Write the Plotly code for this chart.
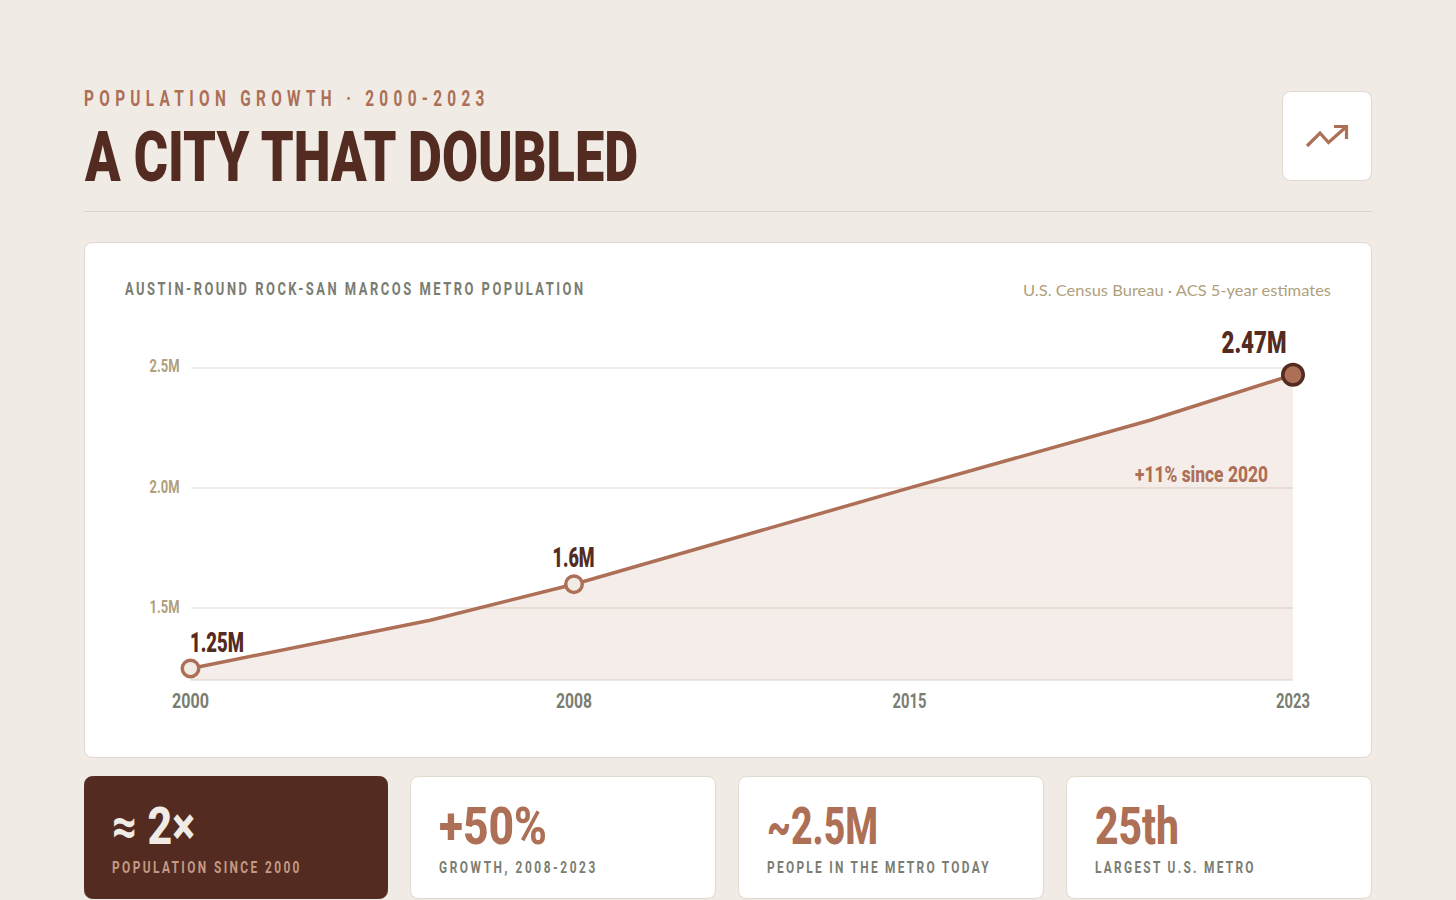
import json
import plotly.graph_objects as go

W, H = 1456, 900

years = [2000, 2005, 2008, 2015, 2020, 2023]
population = [1.25, 1.45, 1.6, 2.0, 2.28, 2.47]

marked_years = [2000, 2008, 2023]
marked_pop = [1.25, 1.6, 2.47]
marked_labels = ["1.25M", "1.6M", "2.47M"]

x_ticks = [2000, 2008, 2015, 2023]
y_ticks = [1.5, 2.0, 2.5]
y_tick_labels = ["1.5M", "2.0M", "2.5M"]

stat_values = ["≈ 2×", "+50%", "~2.5M", "25th"]
stat_labels = ["POPULATION SINCE 2000", "GROWTH, 2008-2023", "PEOPLE IN THE METRO TODAY", "LARGEST U.S. METRO"]

BG = "#f0ebe5"
RUST = "#ad6f55"
DARK = "#532b21"
TAN = "#b09f7c"
GRAY = "#7a7d72"
BORDER = "#e0d9cf"
GRID = "#f0ebe4"
CONDENSED = "Roboto"


def px(x):
    return x / W


def py(y):
    return 1 - y / H


def rounded(x0, y0, x1, y1, r):
    # rounded rectangle in page pixels, converted to paper units
    pts = [
        ("M", x0 + r, y0), ("L", x1 - r, y0), ("Q", x1, y0, x1, y0 + r),
        ("L", x1, y1 - r), ("Q", x1, y1, x1 - r, y1), ("L", x0 + r, y1),
        ("Q", x0, y1, x0, y1 - r), ("L", x0, y0 + r), ("Q", x0, y0, x0 + r, y0),
    ]
    out = []
    for p in pts:
        coords = []
        for i in range(1, len(p), 2):
            coords.append(f"{px(p[i]):.6f},{py(p[i + 1]):.6f}")
        out.append(p[0] + " ".join(coords))
    return " ".join(out) + " Z"


def card(x0, y0, x1, y1, fill="white", line=BORDER):
    return dict(type="path", xref="paper", yref="paper", layer="below",
                path=rounded(x0, y0, x1, y1, 9), fillcolor=fill, line=dict(color=line, width=1))


def polyline(points):
    d = "M" + " L".join(f"{px(a):.6f},{py(b):.6f}" for a, b in points)
    return dict(type="path", xref="paper", yref="paper", path=d,
                line=dict(color=RUST, width=3.2))


shapes = [
    card(1282.5, 91.5, 1371.5, 180.5),
    card(84.5, 242.5, 1371.5, 757.5),
    card(84.5, 776.5, 387.5, 898.5, fill=DARK, line=DARK),
    card(410.5, 776.5, 715.5, 898.5),
    card(738.5, 776.5, 1043.5, 898.5),
    card(1066.5, 776.5, 1371.5, 898.5),
    dict(type="line", xref="paper", yref="paper", layer="below",
         x0=px(84), x1=px(1372), y0=py(211.5), y1=py(211.5), line=dict(color="#dcd5ca", width=1)),
    polyline([(1307, 146), (1320, 133), (1328.5, 142.5), (1346.5, 126.5)]),
    polyline([(1334, 126.5), (1346.5, 126.5), (1346.5, 139)]),
]

# text, left, centre y, size, colour, weight, family, width, tracked
page_text = [
    ("POPULATION GROWTH · 2000-2023", 82, 98, 22, RUST, 700, CONDENSED, 406, True),
    ("A CITY THAT DOUBLED", 82.5, 157, 70, DARK, 900, CONDENSED, 553, False),
    ("AUSTIN-ROUND ROCK-SAN MARCOS METRO POPULATION", 123, 289, 18.5, GRAY, 700, CONDENSED, 461, True),
    ("U.S. Census Bureau · ACS 5-year estimates", 1021, 289, 16, TAN, 400, "Lato", 308, False),
    ("+11% since 2020", 1133, 474.5, 22, RUST, 800, CONDENSED, 133, False),
]
stat_x = [110, 437, 765, 1093]
stat_w = [83, 108, 111, 84]
label_w = [190, 159, 224, 161]
for i in range(4):
    first = i == 0
    page_text.append((stat_values[i], stat_x[i], 826, 52, BG if first else RUST, 800, CONDENSED, stat_w[i], False))
    page_text.append((stat_labels[i], stat_x[i], 867.2, 17, "#c39a85" if first else GRAY, 700, CONDENSED, label_w[i], True))

annotations = []
fit = {}
for text, left, cy, size, color, weight, family, width, tracked in page_text:
    annotations.append(dict(text=text, x=px(left), y=py(cy), xref="paper", yref="paper",
                            xanchor="left", yanchor="middle", showarrow=False,
                            font=dict(family=family, size=size, color=color, weight=weight)))
    fit[text] = [width, "start", tracked]

# labels on the marked points
label_shift = [25, 26, 32]
label_anchor = ["left", "center", "right"]
label_xshift = [-3, 0, -5]
label_size = [27, 27, 31]
label_w2 = [54, 42, 65]
anchors = {"left": "start", "center": "middle", "right": "end"}
for i in range(3):
    annotations.append(dict(text=marked_labels[i], x=marked_years[i], y=marked_pop[i], xref="x", yref="y",
                            xanchor=label_anchor[i], yanchor="middle", showarrow=False,
                            xshift=label_xshift[i], yshift=label_shift[i],
                            font=dict(family=CONDENSED, size=label_size[i], color=DARK, weight=900)))
    fit[marked_labels[i]] = [label_w2[i], anchors[label_anchor[i]], False]

fig = go.Figure()
fig.add_trace(go.Scatter(x=years, y=population, mode="lines", fill="tozeroy",
                         fillcolor="rgba(173,111,85,0.12)", line=dict(color=RUST, width=3.5),
                         hoverinfo="skip", cliponaxis=False))
fig.add_trace(go.Scatter(x=marked_years, y=marked_pop, mode="markers", cliponaxis=False, hoverinfo="skip",
                         marker=dict(size=[16.5, 16.5, 20.5], color=[BG, BG, RUST], opacity=1,
                                     line=dict(color=[RUST, RUST, DARK], width=3.5))))

fig.update_layout(
    width=W, height=H, margin=dict(l=0, r=0, t=0, b=0), showlegend=False,
    paper_bgcolor=BG, plot_bgcolor="rgba(0,0,0,0)", shapes=shapes, annotations=annotations,
    font=dict(family=CONDENSED),
    xaxis=dict(domain=[px(190.5), px(1293)], range=[2000, 2023], tickvals=x_ticks, showgrid=False,
               zeroline=False, showline=False, ticks="", ticklabelstandoff=6, automargin=False,
               tickfont=dict(family=CONDENSED, size=20, color=GRAY, weight=700)),
    yaxis=dict(domain=[py(680.5), py(343.45)], range=[1.2, 2.6], tickvals=y_ticks, ticktext=y_tick_labels,
               gridcolor=GRID, gridwidth=1.5, zeroline=False, showline=False, ticks="", ticklabelstandoff=10,
               automargin=False, tickfont=dict(family=CONDENSED, size=19, color=TAN, weight=700)),
)
fig.add_shape(type="line", xref="x", yref="y", x0=2000, x1=2023, y0=1.2, y1=1.2,
              line=dict(color=BORDER, width=2.5), layer="above")

# plotly has no letter spacing or condensed Barlow here, so fit the svg text to the measured widths
post = """
document.body.style.margin = '0';
document.body.style.background = '%s';
document.documentElement.style.overflow = 'hidden';
var fit = %s;
var squeeze = 0.7;
document.querySelectorAll('.annotation-text').forEach(function (t) {
  var f = fit[t.textContent];
  if (!f) return;
  var b = t.getBBox();
  var x = f[1] === 'start' ? b.x : f[1] === 'end' ? b.x + b.width : b.x + b.width / 2;
  t.setAttribute('text-anchor', f[1]);
  t.setAttribute('x', x);
  if (f[2]) {
    var gap = (f[0] / squeeze - t.getComputedTextLength()) / t.textContent.length;
    t.style.letterSpacing = gap + 'px';
    t.setAttribute('transform', 'translate(' + x + ' 0) scale(' + squeeze + ' 1) translate(' + (-x) + ' 0)');
  } else {
    t.setAttribute('textLength', f[0]);
    t.setAttribute('lengthAdjust', 'spacingAndGlyphs');
  }
});
document.querySelectorAll('.xtick text').forEach(function (t) {
  t.setAttribute('textLength', t.textContent === '2000' ? 37 : t.textContent === '2008' ? 36 : 34);
  t.setAttribute('lengthAdjust', 'spacingAndGlyphs');
});
document.querySelectorAll('.ytick text').forEach(function (t) {
  t.setAttribute('textLength', 30);
  t.setAttribute('lengthAdjust', 'spacingAndGlyphs');
  t.setAttribute('y', parseFloat(t.getAttribute('y')) - 2);
});
""" % (BG, json.dumps(fit))

fig.write_html("out.html", post_script=post, config=dict(displayModeBar=False))
